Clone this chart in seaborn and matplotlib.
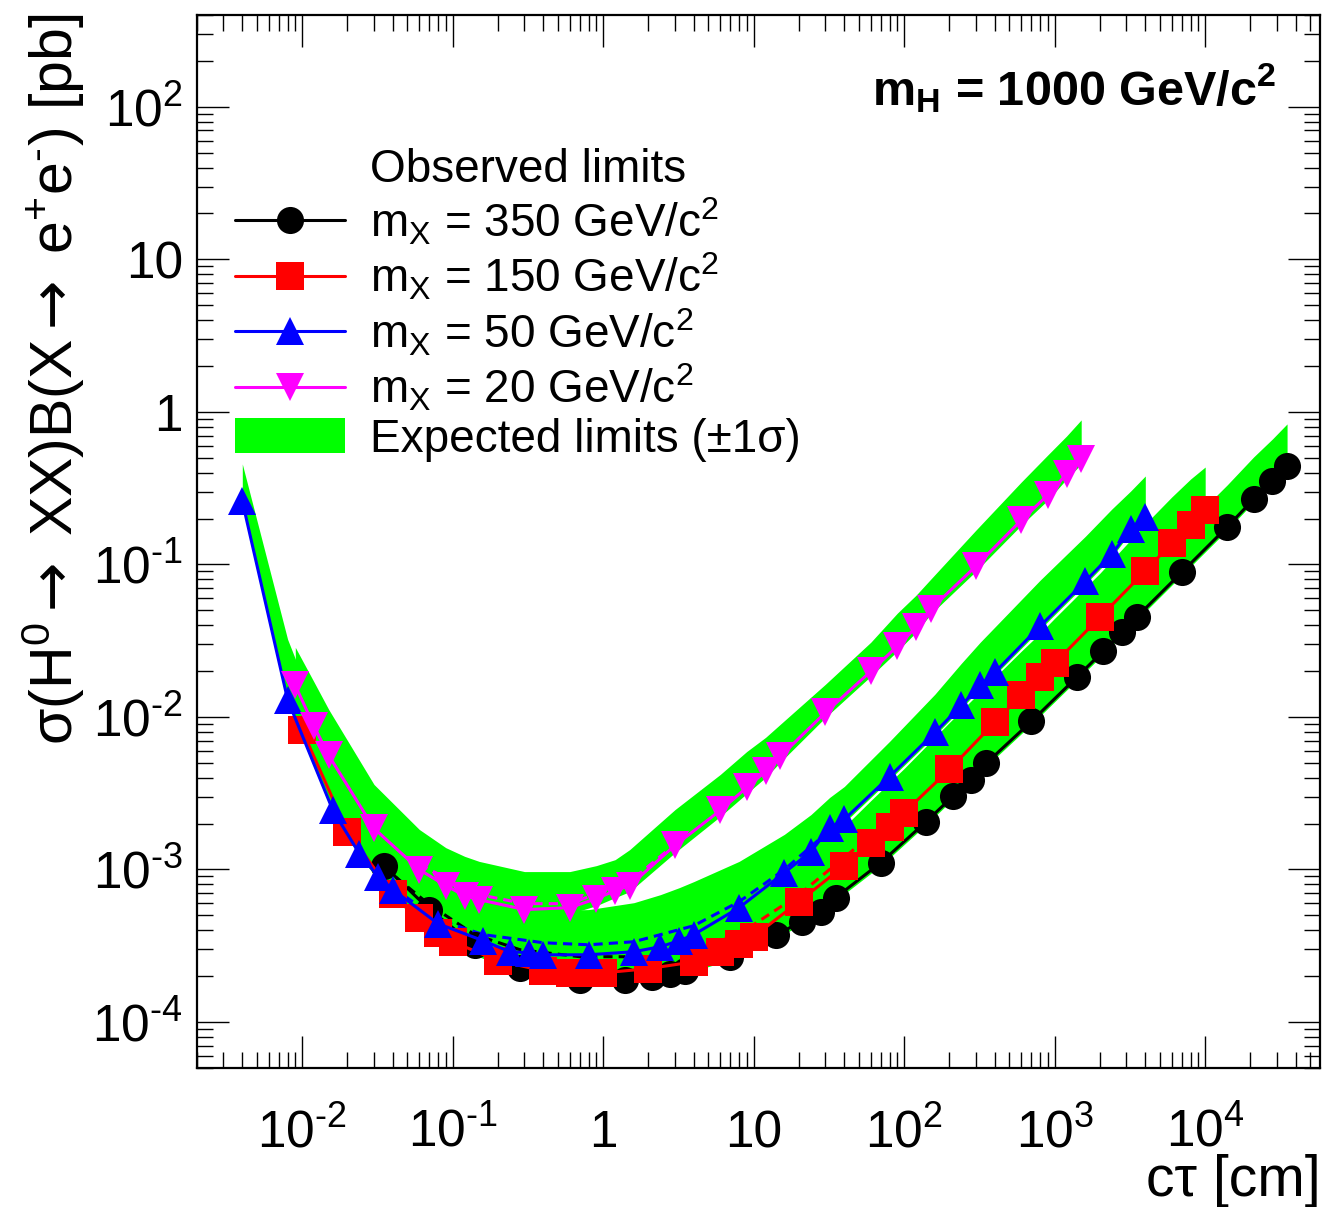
import numpy as np
import matplotlib
matplotlib.use("Agg")
import matplotlib.pyplot as plt
from matplotlib.lines import Line2D
from matplotlib.patches import Patch
from matplotlib.ticker import LogLocator, NullFormatter
import seaborn as sns

# ---------------------------------------------------------------- data
# m_X = 350 GeV/c^2
ctau_350 = [0.035, 0.07, 0.14, 0.28, 0.7, 1.4, 2.1, 2.8, 3.5, 7, 14, 21, 28, 35, 70,
            140, 210, 280, 350, 700, 1400, 2100, 2800, 3500, 7000, 14000, 21000, 28000, 35000]
obs_350 = [1.06e-3, 5.46e-4, 3.21e-4, 2.27e-4, 1.89e-4, 1.89e-4, 1.98e-4, 2.07e-4, 2.17e-4,
           2.68e-4, 3.74e-4, 4.55e-4, 5.29e-4, 6.54e-4, 1.11e-3, 2.06e-3, 3.01e-3, 3.89e-3,
           4.96e-3, 9.35e-3, 1.82e-2, 2.70e-2, 3.59e-2, 4.51e-2, 8.90e-2, 0.176, 0.268, 0.352, 0.442]
exp_lo_350 = [1.01e-3, 5.21e-4, 3.07e-4, 2.17e-4, 1.81e-4, 1.81e-4, 1.89e-4, 1.98e-4, 2.07e-4,
              2.56e-4, 3.57e-4, 4.35e-4, 5.06e-4, 6.25e-4, 1.06e-3, 1.97e-3, 2.88e-3, 3.72e-3,
              4.74e-3, 8.94e-3, 1.74e-2, 2.58e-2, 3.43e-2, 4.31e-2, 8.51e-2, 0.168, 0.257, 0.337, 0.422]
exp_hi_350 = [2.00e-3, 1.03e-3, 6.06e-4, 4.28e-4, 3.57e-4, 3.57e-4, 3.74e-4, 3.91e-4, 4.09e-4,
              5.06e-4, 7.05e-4, 8.59e-4, 9.98e-4, 1.23e-3, 2.10e-3, 3.89e-3, 5.68e-3, 7.35e-3,
              9.35e-3, 1.77e-2, 3.43e-2, 5.09e-2, 6.78e-2, 8.51e-2, 0.168, 0.332, 0.507, 0.665, 0.834]
med_x_350 = [0.035, 0.07, 0.14, 0.28, 0.7, 1.4]
med_350 = [1.03e-3, 5.88e-4, 3.74e-4, 2.98e-4, 2.68e-4, 2.68e-4]

# m_X = 150 GeV/c^2
ctau_150 = [0.01, 0.02, 0.04, 0.06, 0.08, 0.1, 0.2, 0.4, 0.6, 0.8, 1, 2, 4, 6, 8, 10, 20, 40,
            60, 80, 100, 200, 400, 600, 800, 1000, 2000, 4000, 6000, 8000, 10000]
obs_150 = [8.17e-3, 1.77e-3, 6.95e-4, 4.83e-4, 3.85e-4, 3.36e-4, 2.52e-4, 2.17e-4, 2.10e-4,
           2.10e-4, 2.10e-4, 2.24e-4, 2.48e-4, 2.89e-4, 3.26e-4, 3.63e-4, 6.16e-4, 1.06e-3,
           1.50e-3, 1.91e-3, 2.36e-3, 4.53e-3, 9.22e-3, 1.39e-2, 1.82e-2, 2.25e-2, 4.51e-2,
           9.04e-2, 0.138, 0.181, 0.227]
exp_lo_150 = [7.69e-3, 1.67e-3, 6.54e-4, 4.55e-4, 3.63e-4, 3.16e-4, 2.38e-4, 2.04e-4, 1.98e-4,
              1.98e-4, 1.98e-4, 2.10e-4, 2.34e-4, 2.72e-4, 3.07e-4, 3.41e-4, 5.79e-4, 9.98e-4,
              1.41e-3, 1.80e-3, 2.23e-3, 4.26e-3, 8.67e-3, 1.30e-2, 1.71e-2, 2.12e-2, 4.24e-2,
              8.51e-2, 0.130, 0.171, 0.214]
exp_hi_150 = [8.67e-3, 1.94e-3, 8.71e-4, 6.44e-4, 5.21e-4, 4.76e-4, 3.63e-4, 3.21e-4, 3.21e-4,
              3.21e-4, 3.26e-4, 3.52e-4, 4.35e-4, 5.46e-4, 6.54e-4, 7.84e-4, 1.29e-3, 1.91e-3,
              2.83e-3, 3.72e-3, 4.60e-3, 9.22e-3, 1.82e-2, 2.70e-2, 3.54e-2, 4.44e-2, 8.77e-2,
              0.184, 0.277, 0.363, 0.435]
med_x_150 = [4, 10, 20, 40, 100]
med_150 = [2.76e-4, 4.35e-4, 6.84e-4, 1.20e-3, 2.55e-3]

# m_X = 50 GeV/c^2
ctau_50 = [0.004, 0.008, 0.016, 0.024, 0.032, 0.04, 0.08, 0.16, 0.24, 0.32, 0.4, 0.8, 1.6, 2.4,
           3.2, 4, 8, 16, 24, 32, 40, 80, 160, 240, 320, 400, 800, 1600, 2400, 3200, 4000]
obs_50 = [0.26, 1.30e-2, 2.44e-3, 1.27e-3, 8.98e-4, 7.38e-4, 4.41e-4, 3.41e-4, 2.89e-4, 2.85e-4,
          2.76e-4, 2.76e-4, 2.89e-4, 3.12e-4, 3.41e-4, 3.74e-4, 5.62e-4, 9.54e-4, 1.31e-3,
          1.88e-3, 2.13e-3, 4.07e-3, 7.92e-3, 1.19e-2, 1.61e-2, 1.96e-2, 3.94e-2, 7.77e-2,
          0.117, 0.171, 0.205]
exp_lo_50 = [0.249, 1.25e-2, 2.33e-3, 1.22e-3, 8.59e-4, 7.05e-4, 4.22e-4, 3.26e-4, 2.76e-4,
             2.72e-4, 2.64e-4, 2.64e-4, 2.76e-4, 2.98e-4, 3.26e-4, 3.57e-4, 5.37e-4, 9.12e-4,
             1.25e-3, 1.80e-3, 2.03e-3, 3.89e-3, 7.57e-3, 1.14e-2, 1.54e-2, 1.88e-2, 3.76e-2,
             7.43e-2, 0.112, 0.163, 0.195]
exp_hi_50 = [0.456, 3.23e-2, 5.68e-3, 2.88e-3, 1.83e-3, 1.39e-3, 8.20e-4, 6.34e-4, 5.79e-4,
             5.54e-4, 5.37e-4, 5.46e-4, 6.06e-4, 6.84e-4, 7.60e-4, 8.33e-4, 1.13e-3, 1.70e-3,
             2.29e-3, 2.97e-3, 3.50e-3, 6.92e-3, 1.41e-2, 2.25e-2, 3.09e-2, 3.88e-2, 7.88e-2,
             0.153, 0.231, 0.303, 0.380]
med_x_50 = [0.04, 0.08, 0.16, 0.4, 0.8, 1.6, 4, 8, 16, 40]
med_50 = [7.6e-4, 4.69e-4, 3.74e-4, 3.31e-4, 3.21e-4, 3.36e-4, 4.28e-4, 6.15e-4, 9.98e-4, 2.19e-3]

# m_X = 20 GeV/c^2
ctau_20 = [0.009, 0.012, 0.015, 0.03, 0.06, 0.09, 0.12, 0.15, 0.3, 0.6, 0.9, 1.2, 1.5, 3, 6, 9,
           12, 15, 30, 60, 90, 120, 150, 300, 600, 900, 1200, 1500]
obs_20 = [1.61e-2, 8.67e-3, 5.60e-3, 1.86e-3, 9.98e-4, 7.84e-4, 6.74e-4, 6.34e-4, 5.46e-4,
          5.62e-4, 6.44e-4, 7.27e-4, 7.84e-4, 1.44e-3, 2.44e-3, 3.45e-3, 4.40e-3, 5.51e-3,
          1.07e-2, 1.99e-2, 2.91e-2, 3.88e-2, 5.09e-2, 9.75e-2, 0.195, 0.285, 0.392, 0.491]
exp_lo_20 = [1.41e-2, 7.69e-3, 5.11e-3, 1.70e-3, 8.85e-4, 7.05e-4, 6.15e-4, 5.79e-4, 5.06e-4,
             5.13e-4, 5.79e-4, 6.54e-4, 7.16e-4, 1.29e-3, 2.23e-3, 3.15e-3, 4.01e-3, 5.04e-3,
             9.94e-3, 1.85e-2, 2.70e-2, 3.59e-2, 4.72e-2, 9.04e-2, 0.181, 0.264, 0.363, 0.455]
exp_hi_20 = [2.86e-2, 1.69e-2, 1.12e-2, 3.61e-3, 1.83e-3, 1.39e-3, 1.22e-3, 1.13e-3, 9.69e-4,
             9.69e-4, 1.06e-3, 1.16e-3, 1.35e-3, 2.47e-3, 4.20e-3, 5.94e-3, 7.35e-3, 8.94e-3,
             1.64e-2, 3.09e-2, 4.79e-2, 6.29e-2, 8.00e-2, 0.168, 0.347, 0.522, 0.695, 0.886]
med_x_20 = [0.06, 0.15, 0.3, 0.6, 1.5, 3]
med_20 = [1.08e-3, 6.84e-4, 5.97e-4, 5.97e-4, 8.33e-4, 1.46e-3]

mass_labels = ["m$_{\\mathrm{X}}$ = 350 GeV/c$^{2}$", "m$_{\\mathrm{X}}$ = 150 GeV/c$^{2}$",
               "m$_{\\mathrm{X}}$ = 50 GeV/c$^{2}$", "m$_{\\mathrm{X}}$ = 20 GeV/c$^{2}$"]
xtick_vals = [1e-2, 1e-1, 1, 10, 1e2, 1e3, 1e4]
xtick_labels = ["$10^{\u20102}$", "$10^{\u20101}$", "1", "10", "$10^{2}$", "$10^{3}$", "$10^{4}$"]
ytick_vals = [1e-4, 1e-3, 1e-2, 1e-1, 1, 10, 1e2]
ytick_labels = ["$10^{\u20104}$", "$10^{\u20103}$", "$10^{\u20102}$", "$10^{\u20101}$", "1", "10",
                "$10^{2}$"]

# ---------------------------------------------------------------- style
sns.set_theme(style="ticks")
plt.rcParams.update({
    "font.family": ["Liberation Sans", "DejaVu Sans"],
    "mathtext.fontset": "custom",
    "mathtext.rm": "Liberation Sans",
    "mathtext.it": "Liberation Sans:italic",
    "mathtext.bf": "Liberation Sans:bold",
    "mathtext.sf": "DejaVu Sans",
    "mathtext.fallback": "stix",
    "mathtext.default": "regular",
    "text.color": "black",
    "axes.labelcolor": "black",
    "axes.edgecolor": "black",
    "xtick.color": "black",
    "ytick.color": "black",
})

GREEN = "#00ff00"
colors = ["#000000", "#ff0000", "#0000ff", "#ff00ff"]
markers = ["o", "s", "^", "v"]
msizes = [19.5, 19.5, 20, 20]

fig = plt.figure(figsize=(13.23, 12.07), dpi=100)
ax = fig.add_axes([0.1489, 0.1152, 0.8489, 0.8724])
ax.set_xscale("log")
ax.set_yscale("log")

# expected +-1 sigma bands
bands = [(ctau_350, exp_lo_350, exp_hi_350), (ctau_150, exp_lo_150, exp_hi_150),
         (ctau_50, exp_lo_50, exp_hi_50), (ctau_20, exp_lo_20, exp_hi_20)]
for bx, lo, hi in bands:
    ax.fill_between(bx, lo, hi, color=GREEN, lw=0, zorder=1)

# expected median (dashed)
medians = [(med_x_350, med_350), (med_x_150, med_150), (med_x_50, med_50), (med_x_20, med_20)]
for (mx, my), c in zip(medians, colors):
    sns.lineplot(x=mx, y=my, ax=ax, color=c, lw=2.2, linestyle=(0, (3, 2)),
                 estimator=None, sort=False, legend=False, zorder=2)

# observed limits
observed = [(ctau_350, obs_350), (ctau_150, obs_150), (ctau_50, obs_50), (ctau_20, obs_20)]
for (ox, oy), c, m, ms in zip(observed, colors, markers, msizes):
    sns.lineplot(x=ox, y=oy, ax=ax, color=c, lw=2.2, marker=m, markersize=ms,
                 markeredgewidth=0, estimator=None, sort=False, legend=False, zorder=3)

ax.set_xlim(2.0e-3, 5.8e4)
ax.set_ylim(5.0e-5, 400)

ax.set_xticks(xtick_vals, xtick_labels)
ax.set_yticks(ytick_vals, ytick_labels)
ax.xaxis.set_minor_locator(LogLocator(base=10, subs=np.arange(2, 10), numticks=40))
ax.yaxis.set_minor_locator(LogLocator(base=10, subs=np.arange(2, 10), numticks=40))
ax.xaxis.set_minor_formatter(NullFormatter())
ax.yaxis.set_minor_formatter(NullFormatter())
ax.tick_params(which="both", direction="in", top=True, right=True, width=1.0,
               labelsize=37)
ax.tick_params(which="major", length=23)
ax.tick_params(which="minor", length=11.5)
ax.tick_params(axis="x", which="major", pad=57)
ax.tick_params(axis="y", which="major", pad=10)
for lab in ax.get_xticklabels():
    lab.set_verticalalignment("baseline")
for s in ax.spines.values():
    s.set_linewidth(1.6)
    s.set_color("black")
ax.set_xlabel("")
ax.set_ylabel("")

fig.text(53 / 1323, 1 - 14 / 1207,
         "σ(H$^{0}$$\\mathsf{\\rightarrow}$ XX)B(X$\\mathsf{\\rightarrow}$ e$^{+}$e$^{\u2010}$) [pb]",
         rotation=90, ha="center", va="top", fontsize=42.5)
fig.text(1321 / 1323, 1 - 1196 / 1207, "cτ [cm]", ha="right", va="baseline", fontsize=41)
fig.text(1276 / 1323, 1 - 105 / 1207, "m$_{\\mathbf{H}}$ = 1000 GeV/c$^{\\mathbf{2}}$",
         ha="right", va="baseline", fontsize=35, fontweight="bold")

handles = [Line2D([], [], lw=0, label="Observed limits")]
for lab, c, m, ms in zip(mass_labels, colors, markers, msizes):
    handles.append(Line2D([], [], color=c, lw=2.2, marker=m, markersize=ms,
                          markeredgewidth=0, label=lab))
handles.append(Patch(facecolor=GREEN, edgecolor="none", label="Expected limits (±1σ)"))
ax.legend(handles=handles, loc="upper left", bbox_to_anchor=(0.0338, 0.874),
          frameon=False, fontsize=33, handlelength=2.4, handletextpad=0.55,
          labelspacing=0.09, borderpad=0, borderaxespad=0, handleheight=0.8)

fig.savefig("out.png", dpi=100)
